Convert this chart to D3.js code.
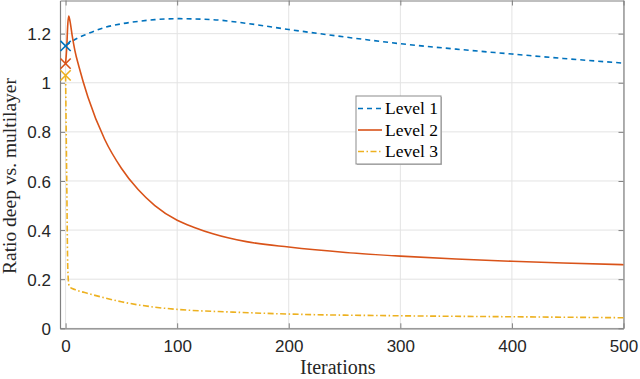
<!DOCTYPE html>
<html>
<head>
<meta charset="utf-8">
<script src="https://cdn.jsdelivr.net/npm/d3@7"></script>
<style>
  body { margin: 0; background: #fff; }
  .tick text { font-family: "Liberation Sans", Arial, sans-serif; font-size: 17px; fill: #262626; }
</style>
</head>
<body>
<div id="chart"></div>
<script>
// Level 1 (dashed blue)
var iters1 = [0, 8, 20, 35, 50, 65, 80, 100, 132, 162, 200, 251, 300, 350, 400, 446, 500];
var level1 = [1.15, 1.175, 1.2, 1.225, 1.24, 1.25, 1.257, 1.261, 1.257, 1.242, 1.217, 1.186, 1.159, 1.137, 1.117, 1.099, 1.08];

// Level 2 (solid red)
var iters2 = [0, 1, 2, 2.8, 4, 6, 8.4, 12, 20, 35, 50, 65, 80, 100, 116, 132, 162, 200, 251, 300, 350, 400, 446, 500];
var level2 = [1.078, 1.14, 1.24, 1.272, 1.25, 1.19, 1.13, 1.065, 0.942, 0.77, 0.652, 0.565, 0.5, 0.44, 0.41, 0.385, 0.353, 0.331, 0.309, 0.294, 0.282, 0.273, 0.266, 0.259];

// Level 3 (dash-dot yellow)
var iters3 = [0, 1, 2, 3, 4, 6, 10, 20, 35, 50, 80, 100, 150, 200, 300, 400, 500];
var level3 = [1.03, 0.62, 0.24, 0.176, 0.168, 0.162, 0.155, 0.142, 0.124, 0.108, 0.086, 0.077, 0.066, 0.058, 0.051, 0.047, 0.043];

var xTicks = [0, 100, 200, 300, 400, 500];
var yTicks = [0, 0.2, 0.4, 0.6, 0.8, 1, 1.2];
var seriesNames = ["Level 1", "Level 2", "Level 3"];

var width = 640, height = 379;
var margin = { top: 0.5, right: 16.5, bottom: 50.7, left: 60 };
var plotW = width - margin.left - margin.right,
    plotH = height - margin.top - margin.bottom;

var svg = d3.select("#chart").append("svg")
    .attr("width", width)
    .attr("height", height);

var g = svg.append("g")
    .attr("transform", "translate(" + margin.left + "," + margin.top + ")");

var x = d3.scaleLinear().domain([-5, 500]).range([0, plotW]);
var y = d3.scaleLinear().domain([0, 1.335]).range([plotH, 0]);

// grid
g.append("g").selectAll("line").data(xTicks).enter().append("line")
    .attr("x1", function (d) { return x(d); }).attr("x2", function (d) { return x(d); })
    .attr("y1", 0).attr("y2", plotH)
    .attr("stroke", "#e3e3e3").attr("stroke-width", 1);
g.append("g").selectAll("line").data(yTicks).enter().append("line")
    .attr("x1", 0).attr("x2", plotW)
    .attr("y1", function (d) { return y(d); }).attr("y2", function (d) { return y(d); })
    .attr("stroke", "#e3e3e3").attr("stroke-width", 1);

// axes (ticks pointing in, like matlab)
var fmt = function (d) { return d3.format("~g")(d); };
var xAxis = g.append("g").attr("transform", "translate(0," + plotH + ")")
    .call(d3.axisBottom(x).tickValues(xTicks).tickFormat(fmt).tickSizeInner(-5).tickSizeOuter(0).tickPadding(12));
var yAxis = g.append("g")
    .call(d3.axisLeft(y).tickValues(yTicks).tickFormat(fmt).tickSizeInner(-5).tickSizeOuter(0).tickPadding(9));
var xTop = g.append("g")
    .call(d3.axisTop(x).tickValues(xTicks).tickFormat("").tickSizeInner(-5).tickSizeOuter(0));
var yRight = g.append("g").attr("transform", "translate(" + plotW + ",0)")
    .call(d3.axisRight(y).tickValues(yTicks).tickFormat("").tickSizeInner(-5).tickSizeOuter(0));
[xAxis, yAxis, xTop, yRight].forEach(function (a) {
    a.selectAll("path").attr("stroke", "#808080").attr("stroke-width", 1.2);
    a.selectAll("line").attr("stroke", "#808080");
});
yAxis.selectAll(".tick text").attr("dy", "0.36em");

// lines
var colors = ["#0072BD", "#D95319", "#EDB120"];
var dashes = ["5,4", null, "6,2.5,1.5,2.5"];
var allX = [iters1, iters2, iters3];
var allY = [level1, level2, level3];

var line = d3.line()
    .x(function (d) { return x(d[0]); })
    .y(function (d) { return y(d[1]); })
    .curve(d3.curveMonotoneX);

var plot = g.append("g");
allX.forEach(function (xs, i) {
    var pts = xs.map(function (v, j) { return [v, allY[i][j]]; });
    plot.append("path")
        .datum(pts)
        .attr("d", line)
        .attr("fill", "none")
        .attr("stroke", colors[i])
        .attr("stroke-width", 1.6)
        .attr("stroke-dasharray", dashes[i]);
});

// start markers (x)
var sym = d3.symbol().type(d3.symbolX).size(70);
allX.forEach(function (xs, i) {
    plot.append("path")
        .attr("d", sym)
        .attr("transform", "translate(" + x(xs[0]) + "," + y(allY[i][0]) + ")")
        .attr("fill", "none")
        .attr("stroke", colors[i])
        .attr("stroke-width", 1.6);
});

// axis labels
svg.append("text")
    .attr("x", margin.left + plotW / 2 - 4)
    .attr("y", 374)
    .attr("text-anchor", "middle")
    .style("font-family", "'Liberation Serif', 'Times New Roman', serif")
    .style("font-size", "20px")
    .style("fill", "#262626")
    .text("Iterations");

svg.append("text")
    .attr("transform", "translate(16," + 176 + ") rotate(-90)")
    .attr("text-anchor", "middle")
    .style("font-family", "'Liberation Serif', 'Times New Roman', serif")
    .style("font-size", "19.5px")
    .style("fill", "#262626")
    .text("Ratio deep vs. multilayer");

// legend
var lx = 356, ly = 96, lw = 85, lh = 68;
var legend = svg.append("g");
legend.append("rect")
    .attr("x", lx + 1).attr("y", ly + 1).attr("width", lw).attr("height", lh)
    .attr("fill", "#bdbdbd");
legend.append("rect")
    .attr("x", lx).attr("y", ly).attr("width", lw).attr("height", lh)
    .attr("fill", "#fff").attr("stroke", "#8c8c8c").attr("stroke-width", 1);
seriesNames.forEach(function (name, i) {
    var yy = ly + 12.5 + i * 21.5;
    legend.append("line")
        .attr("x1", lx + 2).attr("x2", lx + 26)
        .attr("y1", yy).attr("y2", yy)
        .attr("stroke", colors[i]).attr("stroke-width", 1.6)
        .attr("stroke-dasharray", dashes[i]);
    legend.append("text")
        .attr("x", lx + 29).attr("y", yy + 5.5)
        .style("font-family", "'Liberation Serif', 'Times New Roman', serif")
        .style("font-size", "17.5px")
        .style("fill", "#000")
        .text(name);
});
</script>
</body>
</html>
